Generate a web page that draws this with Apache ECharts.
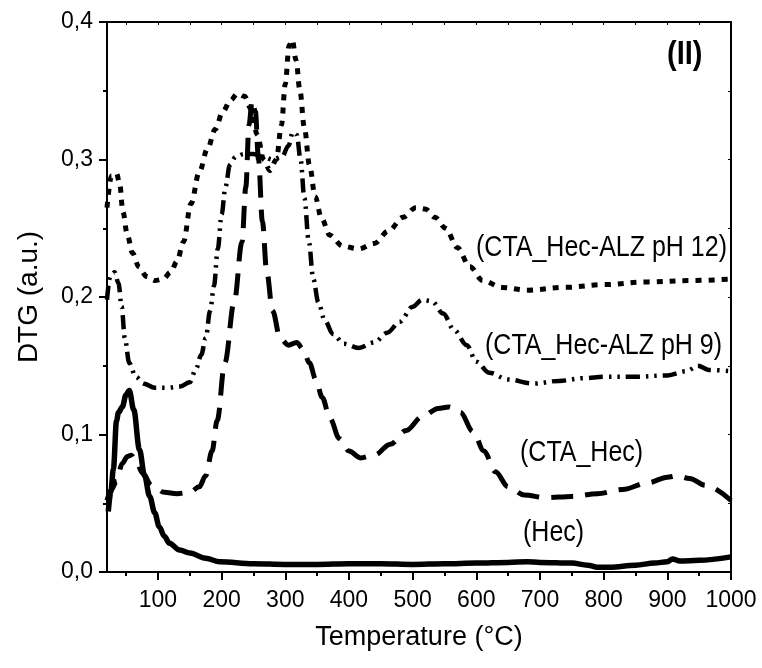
<!DOCTYPE html>
<html>
<head>
<meta charset="utf-8">
<script src="https://cdn.jsdelivr.net/npm/echarts@6/dist/echarts.min.js"></script>
<style>
  html, body { margin: 0; padding: 0; background: #fff; }
  #chart { width: 762px; height: 668px; }
</style>
</head>
<body>
<div id="chart"></div>
<script>
// temperatures (°C) and DTG values
const hecT = [22, 26, 30, 35, 38, 44, 50, 55, 62, 71, 79, 87, 95, 102, 110, 118, 134, 150, 175, 197, 250, 300, 350, 400, 450, 500, 550, 600, 650, 680, 700, 750, 775, 790, 810, 850, 880, 900, 908, 920, 950, 1000];
const hecV = [0.044, 0.058, 0.075, 0.11, 0.116, 0.12, 0.129, 0.132, 0.118, 0.089, 0.07, 0.055, 0.043, 0.033, 0.026, 0.021, 0.016, 0.0138, 0.01, 0.0075, 0.006, 0.0055, 0.0055, 0.006, 0.006, 0.0055, 0.006, 0.0065, 0.007, 0.0075, 0.007, 0.0065, 0.005, 0.0035, 0.0035, 0.005, 0.0065, 0.0075, 0.0095, 0.008, 0.0085, 0.011];

const ctaT = [20, 27, 35, 44, 52, 58, 66, 76, 90, 110, 130, 150, 165, 175, 185, 193, 205, 220, 232, 238, 243, 248, 253, 258, 264, 271, 280, 292, 305, 318, 328, 338, 348, 358, 370, 385, 400, 418, 440, 465, 490, 515, 540, 557, 575, 595, 612, 630, 650, 675, 710, 750, 790, 830, 870, 900, 915, 935, 960, 1000];
const ctaV = [0.052, 0.06, 0.066, 0.079, 0.084, 0.085, 0.08, 0.072, 0.063, 0.058, 0.057, 0.058, 0.062, 0.07, 0.088, 0.11, 0.152, 0.197, 0.24, 0.28, 0.325, 0.343, 0.335, 0.3, 0.255, 0.218, 0.19, 0.17, 0.165, 0.167, 0.162, 0.152, 0.14, 0.127, 0.112, 0.097, 0.088, 0.083, 0.085, 0.093, 0.103, 0.113, 0.119, 0.12, 0.116, 0.102, 0.088, 0.073, 0.062, 0.056, 0.054, 0.055, 0.057, 0.06, 0.065, 0.069, 0.07, 0.068, 0.063, 0.052];

const ph9T = [20, 25, 32, 38, 43, 48, 55, 65, 78, 95, 115, 135, 150, 160, 168, 175, 182, 188, 194, 200, 206, 213, 222, 235, 250, 265, 280, 295, 305, 312, 318, 324, 330, 337, 344, 352, 362, 375, 392, 415, 440, 460, 480, 500, 515, 530, 548, 565, 585, 600, 620, 650, 690, 730, 770, 800, 850, 900, 930, 948, 965, 1000];
const ph9V = [0.198, 0.215, 0.218, 0.21, 0.193, 0.17, 0.152, 0.142, 0.137, 0.134, 0.134, 0.135, 0.138, 0.148, 0.158, 0.17, 0.19, 0.208, 0.235, 0.26, 0.28, 0.296, 0.302, 0.304, 0.304, 0.302, 0.3, 0.302, 0.31, 0.32, 0.318, 0.3, 0.272, 0.24, 0.213, 0.196, 0.183, 0.173, 0.166, 0.163, 0.167, 0.174, 0.182, 0.193, 0.198, 0.197, 0.188, 0.176, 0.165, 0.153, 0.145, 0.14, 0.137, 0.139, 0.141, 0.142, 0.142, 0.143, 0.146, 0.15, 0.147, 0.146];

const ph12T = [20, 27, 35, 40, 45, 52, 60, 70, 82, 95, 108, 120, 130, 140, 152, 165, 178, 190, 202, 214, 225, 236, 246, 256, 266, 276, 286, 294, 300, 306, 311, 317, 323, 330, 338, 347, 357, 370, 390, 415, 440, 462, 485, 505, 520, 535, 552, 570, 590, 610, 640, 680, 740, 800, 870, 940, 1000];
const ph12V = [0.265, 0.288, 0.29, 0.282, 0.262, 0.245, 0.232, 0.222, 0.215, 0.212, 0.213, 0.218, 0.226, 0.24, 0.268, 0.291, 0.308, 0.322, 0.335, 0.343, 0.348, 0.346, 0.337, 0.318, 0.3, 0.292, 0.3, 0.325, 0.355, 0.383, 0.387, 0.372, 0.35, 0.323, 0.296, 0.273, 0.257, 0.245, 0.237, 0.235, 0.239, 0.248, 0.258, 0.265, 0.264, 0.258, 0.25, 0.236, 0.222, 0.212, 0.207, 0.205, 0.207, 0.209, 0.211, 0.212, 0.213];

const xLabels = [100, 200, 300, 400, 500, 600, 700, 800, 900, 1000];
const xMinor = [50, 150, 250, 350, 450, 550, 650, 750, 850, 950];

const FONT = '"Liberation Sans", Arial, sans-serif';

function pairs(t, v) {
  return t.map((x, i) => [x, v[i]]);
}

let chart = echarts.init(document.getElementById('chart'), null, { renderer: 'canvas' });

function lineSeries(name, t, v, type, width) {
  return {
    name: name,
    type: 'line',
    xAxisIndex: 0,
    yAxisIndex: 0,
    data: pairs(t, v),
    showSymbol: false,
    smooth: 0.35,
    smoothMonotone: 'x',
    lineStyle: { color: '#000', width: width, type: type, cap: 'butt' },
    z: 3
  };
}

// tall-ish annotation text (the original lettering is condensed)
function note(text, x, y, size, weight) {
  return {
    type: 'text', x: x, y: y, scaleY: 1.15,
    style: { text: text, font: (weight || '') + ' ' + size + 'px ' + FONT, fill: '#000', textVerticalAlign: 'middle' }
  };
}

let option = {
  backgroundColor: '#fff',
  animation: false,
  grid: { left: 107, right: 31, top: 22, bottom: 96 },
  xAxis: [
    {
      type: 'value', min: 20, max: 1000, position: 'bottom',
      name: 'Temperature (°C)', nameLocation: 'middle', nameGap: 52,
      nameTextStyle: { fontFamily: FONT, fontSize: 27, color: '#000' },
      axisLine: { show: true, onZero: false, lineStyle: { color: '#000', width: 2 } },
      axisTick: { show: true, length: 8, customValues: xLabels, lineStyle: { color: '#000', width: 2 } },
      axisLabel: {
        show: true, customValues: xLabels, margin: 17, fontFamily: FONT, fontSize: 23, color: '#000',
        formatter: v => String(v)
      },
      splitLine: { show: false }
    },
    {
      type: 'value', min: 20, max: 1000, position: 'bottom',
      axisLine: { show: false },
      axisTick: { show: true, length: 4, customValues: xMinor, lineStyle: { color: '#000', width: 2 } },
      axisLabel: { show: false },
      splitLine: { show: false }
    },
    {
      type: 'value', min: 20, max: 1000, position: 'top',
      axisLine: { show: true, onZero: false, lineStyle: { color: '#000', width: 2 } },
      axisTick: { show: true, inside: true, length: 3, customValues: xLabels.concat(xMinor), lineStyle: { color: '#000', width: 1 } },
      axisLabel: { show: false },
      splitLine: { show: false }
    }
  ],
  yAxis: [
    {
      type: 'value', min: 0, max: 0.4, interval: 0.1, position: 'left',
      name: 'DTG (a.u.)', nameLocation: 'middle', nameGap: 64,
      nameTextStyle: { fontFamily: FONT, fontSize: 28, color: '#000' },
      axisLine: { show: true, onZero: false, lineStyle: { color: '#000', width: 2 } },
      axisTick: { show: true, length: 8, lineStyle: { color: '#000', width: 2 } },
      minorTick: { show: true, splitNumber: 2, length: 4, lineStyle: { color: '#000', width: 2 } },
      axisLabel: {
        margin: 14, fontFamily: FONT, fontSize: 23, color: '#000',
        formatter: v => v.toFixed(1).replace('.', ',')
      },
      splitLine: { show: false },
      minorSplitLine: { show: false }
    },
    {
      type: 'value', min: 0, max: 0.4, interval: 0.1, position: 'right',
      axisLine: { show: true, onZero: false, lineStyle: { color: '#000', width: 2 } },
      axisTick: { show: true, inside: true, length: 3, lineStyle: { color: '#000', width: 1 } },
      minorTick: { show: true, splitNumber: 2, length: 3, lineStyle: { color: '#000', width: 1 } },
      axisLabel: { show: false },
      splitLine: { show: false }
    }
  ],
  graphic: [
    note('(II)', 667, 55, 29, 'bold'),
    note('(CTA_Hec-ALZ pH 12)', 476, 248, 25),
    note('(CTA_Hec-ALZ pH 9)', 485, 346, 25),
    note('(CTA_Hec)', 520, 453, 25),
    note('(Hec)', 523, 533, 25)
  ],
  series: [
    lineSeries('Hec', hecT, hecV, 'solid', 5.5),
    lineSeries('CTA_Hec', ctaT, ctaV, [22, 12], 5),
    lineSeries('CTA_Hec-ALZ pH 9', ph9T, ph9V, [14, 6, 2.5, 6, 2.5, 6], 4.5),
    lineSeries('CTA_Hec-ALZ pH 12', ph12T, ph12V, [6, 7], 5)
  ]
};

if (chart) {
  chart.setOption(option);
}
</script>
</body>
</html>
